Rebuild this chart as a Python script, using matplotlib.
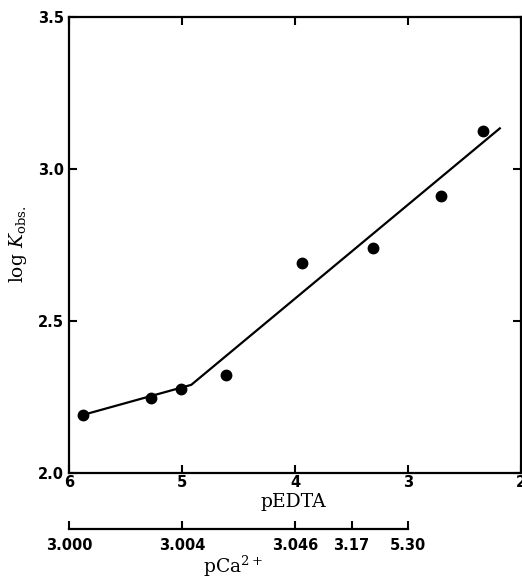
import matplotlib
matplotlib.use("Agg")
import matplotlib.pyplot as plt

# measured points (pEDTA, log Kobs)
p_edta = [5.88, 5.28, 5.01, 4.61, 3.94, 3.31, 2.71, 2.34]
log_k = [2.19, 2.245, 2.275, 2.32, 2.69, 2.74, 2.91, 3.125]

# fitted two-segment line
fit_x = [5.88, 4.92, 2.18]
fit_y = [2.19, 2.289, 3.135]

# pCa2+ scale under the pEDTA axis
pca_pos = [6, 5, 4, 3.5, 3]
pca_labels = ["3.000", "3.004", "3.046", "3.17", "5.30"]

x_ticks = [6, 5, 4, 3, 2]
y_ticks = [2.0, 2.5, 3.0, 3.5]

plt.rcParams["mathtext.fontset"] = "dejavuserif"
tick_font = {"family": "DejaVu Sans", "weight": "bold", "size": 10.5}
serif = "DejaVu Serif"

W, H = 522, 578
fig = plt.figure(figsize=(W / 100, H / 100), dpi=100)
left, right, top, bottom = 69.3, 521.0, 16.7, 472.7
ax = fig.add_axes([left / W, 1 - bottom / H, (right - left) / W, (bottom - top) / H])

ax.plot(fit_x, fit_y, color="black", lw=1.6, solid_capstyle="butt")
ax.plot(p_edta, log_k, "o", color="black", ms=7.5, mec="black")

ax.set_xlim(6, 2)
ax.set_ylim(2.0, 3.5)
ax.set_xticks(x_ticks)
ax.set_xticklabels([str(t) for t in x_ticks], fontdict=tick_font)
ax.set_yticks(y_ticks)
ax.set_yticklabels([f"{t:.1f}" for t in y_ticks], fontdict=tick_font)
ax.tick_params(direction="in", length=6, width=1.5, top=True, right=True,
               labeltop=False, labelright=False)
ax.tick_params(axis="x", pad=1.5)
ax.tick_params(axis="y", pad=4)
for s in ax.spines.values():
    s.set_linewidth(1.6)

ax.set_ylabel(r"log $K_{\mathrm{obs.}}$", family=serif, fontsize=13.5, labelpad=6)
fig.text(293 / W, 1 - 502 / H, "pEDTA", family=serif, fontsize=13.5,
         ha="center", va="center")

# secondary pCa scale
y2 = 529.3
ax2 = fig.add_axes([left / W, 1 - y2 / H, (right - left) / W, 0.01])
ax2.set_xlim(6, 2)
ax2.set_ylim(0, 1)
ax2.patch.set_visible(False)
for k in ("top", "left", "right"):
    ax2.spines[k].set_visible(False)
ax2.spines["bottom"].set_linewidth(1.6)
ax2.spines["bottom"].set_bounds(min(pca_pos), max(pca_pos))
ax2.set_yticks([])
ax2.set_xticks(pca_pos)
ax2.set_xticklabels(pca_labels, fontdict=tick_font)
ax2.tick_params(axis="x", direction="in", length=6, width=1.5, pad=6)
fig.text(233 / W, 1 - 566 / H, r"pCa$^{\mathregular{2+}}$", family=serif, fontsize=13.5,
         ha="center", va="center")

fig.savefig("out.png", dpi=100)
